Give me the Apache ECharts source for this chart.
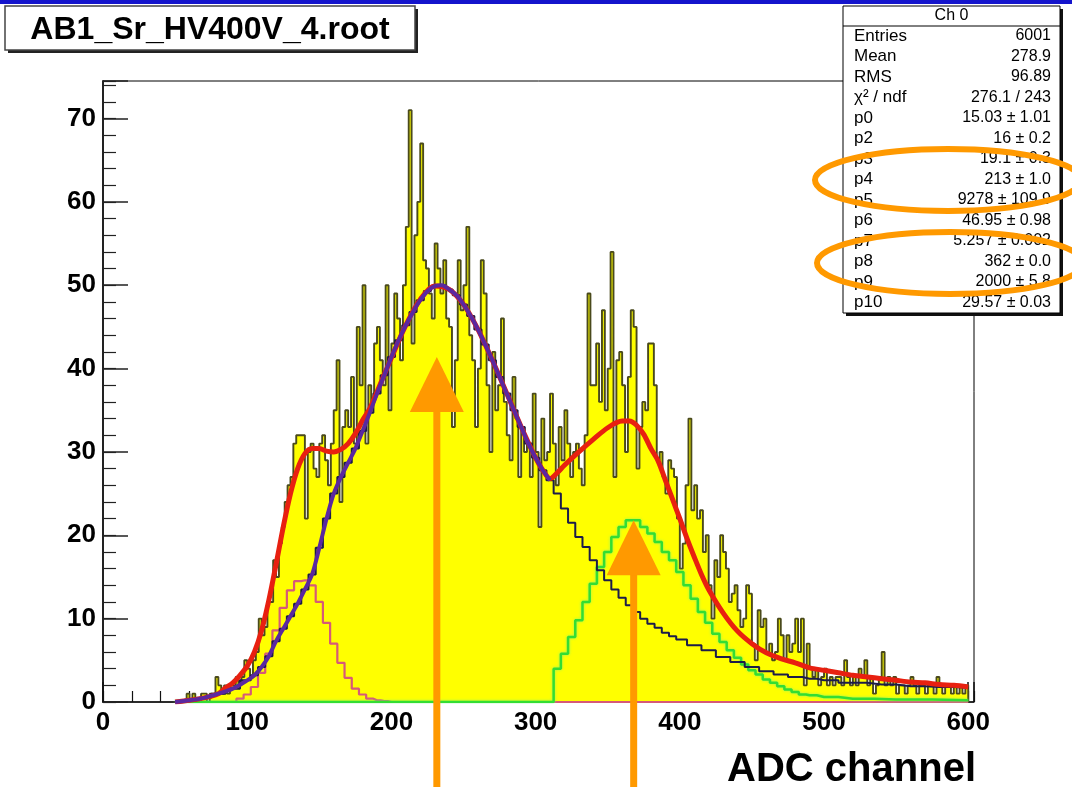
<!DOCTYPE html>
<html><head><meta charset="utf-8">
<script src="https://cdn.jsdelivr.net/npm/echarts@6/dist/echarts.min.js"></script>
<style>html,body{margin:0;padding:0;background:#fff}#c{width:1072px;height:787px}</style>
</head><body><div id="c"></div>
<script>
// ---- histogram: bins of width 2 from 50 to 600 ----
const BIN_START = 50, BIN_WIDTH = 2;
const counts = [
  0,0,0,0,1, 0,1,0,0,1, 1,0,1,1,3, 2,1,2,1,2, 2,3,2,3,5,
  4,3,5,6,10, 8,9,12,12,17, 15,19,21,24,26, 27,31,32,32,32, 22,30,31,28,27,
  31,32,29,26,31, 35,41,24,33,35, 33,39,31,45,38, 50,31,38,36,43, 45,41,38,50,35,
  43,49,46,41,50, 57,71,43,56,60, 67,53,52,49,46, 55,52,49,53,46, 45,33,41,53,47,
  50,57,44,41,33, 40,53,49,38,30, 42,35,38,46,36, 32,29,39,34,27, 33,30,31,27,37,
  30,21,34,29,30, 37,31,26,33,29, 35,31,27,30,31, 28,26,32,49,38, 38,43,36,47,35,
  40,54,27,41,42, 38,30,39,47,45, 28,33,36,35,43, 43,38,29,30,27, 25,29,28,27,22,
  16,19,26,34,23, 26,22,23,18,20, 14,10,17,15,20, 18,16,12,13,14, 11,9,10,14,13,
  7,5,11,9,10, 6,7,5,6,10, 8,5,8,6,7, 10,6,10,2,7, 4,3,4,2,3,
  4,2,3,2,3, 3,2,5,3,2, 3,2,4,3,5, 2,3,1,2,3, 6,2,3,2,3,
  1,2,2,1,2, 3,2,1,2,2, 1,2,2,1,3, 2,1,2,2,1, 2,1,2,1,2
];
// ---- fit curves ----
const totalX = [50,60,70,80,85,90,95,100,105,110,115,120,125,130,135,140,145,150,155,160,165,170,175,180,185,190,200,210,220,230,240,250,260,270,280,290,300,305,310,315,320,330,340,350,360,365,370,375,380,385,390,395,400,405,410,415,420,430,440,450,460,470,480,490,500,510,520,530,540,550,560,570,580,590,600];
const totalY = [0,0.2,0.5,1,1.7,2.3,3.2,4.3,6,8.6,12.2,16.5,21,25,28,29.8,30.4,30.4,30.1,30,30.3,31,32.2,33.8,35.2,37.2,41.3,45.2,48.3,49.9,49.5,47.7,44.7,41,37,33,29.3,27.8,26.8,27.5,28.4,30,31.5,32.9,33.7,33.7,33.2,32.1,30.4,28.9,26.6,24.3,22,19.6,17.4,15.3,13.5,10.7,8.5,7,5.9,5.2,4.7,4.1,3.8,3.5,3.2,3,2.8,2.6,2.4,2.3,2.1,2,1.8];
const mainX = [50,60,70,80,90,100,105,110,115,120,125,130,135,140,145,150,155,160,165,170,175,180,185,190,195,200,205,210,215,220,225,230,235,240,245,250,255,260,265,270,275,280,285,290,295,300,305,310,315,320,325,330,335,340,345,350,355,360,365,370,375,380,385,390,395,400,410,420,430,440,450,460,470,480,490,500,520,540,560,580,600];
const mainY = [0,0.2,0.5,1,1.6,2.6,3.2,4.2,5.5,7.3,8.8,10.3,11.8,13.5,15.3,18.5,22,25,27,28.7,30.4,32.5,34.7,37,39.2,41.4,43.4,45.2,46.8,48.2,49.3,49.9,50,49.5,48.8,47.7,46.3,44.7,42.9,41,39,37,35,33,31,29.3,27.8,26.6,25,23.2,21.5,19.8,18.6,17,15.8,14.6,13.5,12.5,11.6,10.8,10,9.4,8.9,8.3,7.9,7.5,6.8,6.2,5.4,4.8,4.2,3.7,3.3,3,2.8,2.6,2.3,2.1,1.9,1.8,1.7];
const PURPLE_END = 310;
const pinkX = [50,90,95,100,105,110,115,120,125,130,135,140,145,150,155,160,165,170,175,180,185,190,195,200,600];
const pinkY = [0,0,0.4,0.9,1.8,3.5,5.8,8.6,11.3,13.4,14.5,14.6,14,12,9.5,7,4.7,2.9,1.6,0.9,0.4,0.2,0.1,0,0];
const greenX = [50,310,315,320,325,330,335,340,345,350,355,360,365,370,375,380,385,390,395,400,405,410,415,420,425,430,435,440,445,450,455,460,465,470,475,480,485,490,500,520,550,600];
const greenY = [0,0,4,5.8,7.8,9.8,12,14.2,16.2,18,19.8,21,21.8,21.8,21,20.2,19.2,18,17,15.6,14,12.4,10.8,9.5,8.2,7.2,6.2,5.3,4.5,3.8,3.3,2.7,2.3,1.9,1.5,1.2,0.9,0.8,0.6,0.4,0.3,0.2];
// ---- axes ----
const X_MIN = 0, X_MAX = 604, X_MAJOR = 100, X_MINOR = 20;
const Y_MIN = 0, Y_MAX = 74.5, Y_MAJOR = 10, Y_MINOR = 2;
// ---- texts ----
const titleText = 'AB1_Sr_HV400V_4.root';
const xAxisTitle = 'ADC channel';
const statsTitle = 'Ch 0';
const statsLabels = ['Entries','Mean','RMS','\u03c7\u00b2 / ndf','p0','p2','p3','p4','p5','p6','p7','p8','p9','p10'];
const statsValues = ['6001','278.9','96.89','276.1 / 243','15.03 \u00b1 1.01','16 \u00b1 0.2','19.1 \u00b1 0.3','213 \u00b1 1.0','9278 \u00b1 109.9','46.95 \u00b1 0.98','5.257 \u00b1 0.002','362 \u00b1 0.0','2000 \u00b1 5.8','29.57 \u00b1 0.03'];
// annotation arrows (data coords of tips)
const arrowX = [231.5, 368];
const arrowTipY = [41.4, 21.8];

const FONT = "'Liberation Sans', Arial, Helvetica, sans-serif";
const zip = (xs, ys) => xs.map((x, i) => [x, ys[i]]);
const histData = counts.map((c, i) => [BIN_START + i * BIN_WIDTH, c]);
histData.push([BIN_START + counts.length * BIN_WIDTH, counts[counts.length - 1]]);
histData.push([BIN_START + counts.length * BIN_WIDTH, 0]);

const chart = echarts.init(document.getElementById('c'));
const lbl = { color: '#000', fontFamily: FONT, fontWeight: 'bold', fontSize: 26 };
chart.setOption({
  animation: false,
  backgroundColor: '#fff',
  grid: { left: 103, right: 98, top: 81, bottom: 85, show: true, borderColor: '#000', borderWidth: 1, backgroundColor: 'transparent' },
  xAxis: [
    { type: 'value', min: X_MIN, max: X_MAX, interval: X_MAJOR, position: 'bottom',
      axisLine: { show: true, onZero: false, lineStyle: { color: '#111', width: 1.5 } },
      axisTick: { show: true, inside: true, length: 20, lineStyle: { color: '#111', width: 1.5 } },
      splitLine: { show: false },
      axisLabel: Object.assign({ margin: 8, formatter: v => (v % X_MAJOR === 0 ? String(v) : '') }, lbl) },
    { type: 'value', min: X_MIN, max: X_MAX, interval: X_MINOR, position: 'bottom',
      axisLine: { show: false }, axisLabel: { show: false }, splitLine: { show: false },
      axisTick: { show: true, inside: true, length: 11, lineStyle: { color: '#111', width: 1.2 } } }
  ],
  yAxis: [
    { type: 'value', min: Y_MIN, max: Y_MAX, interval: Y_MAJOR, position: 'left',
      axisLine: { show: true, onZero: false, lineStyle: { color: '#222', width: 2 } },
      axisTick: { show: true, inside: true, length: 25, lineStyle: { color: '#222', width: 1.5 } },
      splitLine: { show: false },
      axisLabel: Object.assign({ margin: 7, formatter: v => (v % Y_MAJOR === 0 ? String(v) : '') }, lbl) },
    { type: 'value', min: Y_MIN, max: Y_MAX, interval: Y_MINOR, position: 'left', offset: 0,
      axisLine: { show: false }, axisLabel: { show: false }, splitLine: { show: false },
      axisTick: { show: true, inside: true, length: 13, lineStyle: { color: '#222', width: 1.2 } } }
  ],
  series: [
    { name: 'hist', type: 'line', step: 'end', data: histData, symbol: 'none',
      lineStyle: { color: '#4a4a1c', width: 1.9 }, areaStyle: { color: '#ffff00', opacity: 1 } },
    { name: 'pink', type: 'line', step: 'middle', data: zip(pinkX, pinkY), symbol: 'none',
      lineStyle: { color: '#d65a78', width: 2.2 } },
    { name: 'green', type: 'line', step: 'middle', data: zip(greenX, greenY), symbol: 'none',
      lineStyle: { color: '#33dd33', width: 2.5, shadowColor: 'rgba(120,240,120,0.8)', shadowBlur: 3 } },
    { name: 'main', type: 'line', step: 'middle', data: zip(mainX, mainY), symbol: 'none',
      lineStyle: { color: '#1c1c4a', width: 2 } },
    { name: 'total', type: 'line', smooth: 0.3, data: zip(totalX, totalY), symbol: 'none',
      lineStyle: { color: '#e82010', width: 5 } },
    { name: 'mainSmooth', type: 'line', smooth: 0.3, data: zip(mainX, mainY).filter(p => p[0] <= PURPLE_END), symbol: 'none',
      lineStyle: { color: '#5a28a0', width: 4 } }
  ]
});

// ---- overlays (title box, stats box, orange annotations) ----
const g = [];
g.push({ type: 'rect', shape: { x: 0, y: 0, width: 1072, height: 4 }, style: { fill: '#1414cc' }, z: 100 });
// title box
g.push({ type: 'rect', shape: { x: 8, y: 9, width: 410, height: 44 }, style: { fill: '#222' }, z: 100 });
g.push({ type: 'rect', shape: { x: 5, y: 6, width: 410, height: 44 }, style: { fill: '#fff', stroke: '#444', lineWidth: 1.5 }, z: 101 });
g.push({ type: 'text', x: 210, y: 30, style: { text: titleText, fill: '#000', font: 'bold 32px ' + FONT, textAlign: 'center', textVerticalAlign: 'middle' }, z: 102 });
// stats box
const SB = { x: 843, y: 6, w: 217, h: 307 };
g.push({ type: 'rect', shape: { x: SB.x + 3, y: SB.y + 3, width: SB.w, height: SB.h }, style: { fill: '#111' }, z: 100 });
g.push({ type: 'rect', shape: { x: SB.x, y: SB.y, width: SB.w, height: SB.h }, style: { fill: '#fff', stroke: '#000', lineWidth: 1 }, z: 101 });
g.push({ type: 'line', shape: { x1: SB.x, y1: 26, x2: SB.x + SB.w, y2: 26 }, style: { stroke: '#000', lineWidth: 1 }, z: 102 });
g.push({ type: 'text', x: SB.x + SB.w / 2, y: 16, style: { text: statsTitle, fill: '#000', font: '16px ' + FONT, textAlign: 'center', textVerticalAlign: 'middle' }, z: 102 });
statsLabels.forEach((t, i) => {
  const y = 36 + i * 20.5;
  g.push({ type: 'text', x: 854, y: y, style: { text: t, fill: '#000', font: '17px ' + FONT, textAlign: 'left', textVerticalAlign: 'middle' }, z: 102 });
  g.push({ type: 'text', x: 1051, y: y, style: { text: statsValues[i], fill: '#000', font: '16px ' + FONT, textAlign: 'right', textVerticalAlign: 'middle' }, z: 102 });
});
// orange ellipses
g.push({ type: 'ellipse', shape: { cx: 948, cy: 180, rx: 133, ry: 31 }, style: { fill: 'none', stroke: '#ff9900', lineWidth: 6 }, z: 110 });
g.push({ type: 'ellipse', shape: { cx: 950, cy: 263, rx: 133, ry: 31 }, style: { fill: 'none', stroke: '#ff9900', lineWidth: 6 }, z: 110 });
// x axis title
g.push({ type: 'text', x: 976, y: 770, style: { text: xAxisTitle, fill: '#000', font: 'bold 40px ' + FONT, textAlign: 'right', textVerticalAlign: 'middle' }, z: 102 });
// orange arrows
arrowX.forEach((x, i) => {
  const p = chart.convertToPixel({ xAxisIndex: 0, yAxisIndex: 0 }, [x, arrowTipY[i]]);
  const headH = 55, headW = 27;
  g.push({ type: 'line', shape: { x1: p[0], y1: p[1] + headH - 2, x2: p[0], y2: 787 }, style: { stroke: '#ff9900', lineWidth: 7 }, z: 110 });
  g.push({ type: 'polygon', shape: { points: [[p[0], p[1]], [p[0] - headW, p[1] + headH], [p[0] + headW, p[1] + headH]] }, style: { fill: '#ff9900' }, z: 110 });
});
chart.setOption({ graphic: g });
</script>
</body></html>
